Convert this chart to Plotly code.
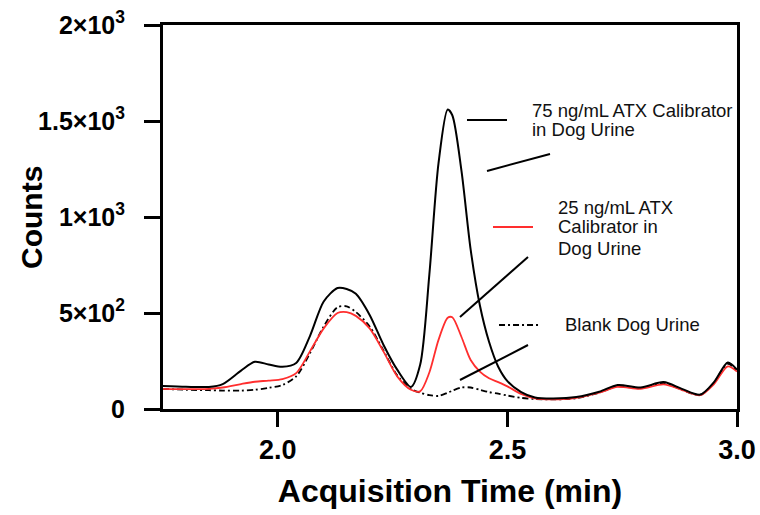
import plotly.graph_objects as go

# Acquisition time (min)
time_min = [1.75, 1.80, 1.85, 1.88, 1.92, 1.95, 1.98, 2.01, 2.04, 2.07, 2.10, 2.13,
            2.15, 2.17, 2.20, 2.23, 2.26, 2.29, 2.31, 2.33, 2.35, 2.37, 2.38, 2.40,
            2.42, 2.44, 2.46, 2.48, 2.50, 2.53, 2.56, 2.60, 2.65, 2.70, 2.74, 2.79,
            2.84, 2.88, 2.92, 2.95, 2.98, 3.00]

# 75 ng/mL ATX Calibrator in Dog Urine
counts_75 = [120, 116, 115, 130, 200, 246, 232, 220, 240, 380, 560, 630,
             625, 600, 490, 335, 205, 115, 230, 700, 1280, 1560, 1530, 1240,
             830, 540, 350, 220, 145, 88, 60, 55, 62, 90, 125, 112,
             140, 105, 75, 140, 242, 205]

# 25 ng/mL ATX Calibrator in Dog Urine
counts_25 = [105, 103, 105, 112, 130, 142, 148, 156, 187, 300, 420, 500,
             505, 485, 420, 300, 170, 100, 92, 190, 360, 475, 478, 375,
             255, 195, 160, 140, 118, 78, 55, 50, 58, 85, 115, 105,
             128, 100, 72, 130, 222, 195]

# Blank Dog Urine
counts_blank = [105, 100, 98, 96, 96, 100, 110, 125, 170, 290, 430, 530,
                535, 505, 430, 305, 175, 105, 85, 72, 68, 85, 95, 112,
                112, 100, 88, 80, 70, 58, 52, 50, 56, 85, 118, 108,
                135, 100, 73, 138, 235, 200]

y_tickvals = [0, 500, 1000, 1500, 2000]
y_ticktext = ["0", "5×10<sup>2</sup>", "1×10<sup>3</sup>", "1.5×10<sup>3</sup>", "2×10<sup>3</sup>"]
x_tickvals = [2.0, 2.5, 3.0]
x_ticktext = ["2.0", "2.5", "3.0"]

FONT = "Liberation Sans, Arial, Helvetica, sans-serif"
RED = "#ff2e2e"

fig = go.Figure()
fig.add_trace(go.Scatter(x=time_min, y=counts_blank, mode="lines",
                         line=dict(color="black", width=1.8, dash="6px,3px,2px,3px", shape="spline", smoothing=0.8),
                         name="Blank Dog Urine", showlegend=False))
fig.add_trace(go.Scatter(x=time_min, y=counts_25, mode="lines",
                         line=dict(color=RED, width=1.8, shape="spline", smoothing=0.8),
                         name="25 ng/mL ATX Calibrator in Dog Urine", showlegend=False))
fig.add_trace(go.Scatter(x=time_min, y=counts_75, mode="lines",
                         line=dict(color="black", width=2, shape="spline", smoothing=0.8),
                         name="75 ng/mL ATX Calibrator in Dog Urine", showlegend=False))

# legend-like annotations: (sample line, text lines, leader line) in paper coords
shapes = []
def seg(x0, y0, x1, y1, color="black", width=2, dash=None):
    shapes.append(dict(type="line", xref="paper", yref="paper", x0=x0, y0=y0, x1=x1, y1=y1,
                       line=dict(color=color, width=width, dash=dash)))

seg(0.5296, 0.7526, 0.5993, 0.7526)
seg(0.5645, 0.6198, 0.6742, 0.6641)
seg(0.5749, 0.4740, 0.6446, 0.4740, color=RED)
seg(0.5174, 0.2396, 0.6359, 0.3958)
seg(0.5854, 0.2188, 0.6568, 0.2188, width=1.8, dash="6px,3px,2px,3px")
seg(0.5174, 0.0755, 0.6359, 0.1667)

annotations = []
def txt(x, y, s):
    annotations.append(dict(x=x, y=y, xref="paper", yref="paper", text=s, showarrow=False,
                            xanchor="left", yanchor="middle",
                            font=dict(family=FONT, size=18.5, color="#111")))

txt(0.6394, 0.7786, "75 ng/mL ATX Calibrator")
txt(0.6394, 0.7266, "in Dog Urine")
txt(0.6847, 0.5260, "25 ng/mL ATX")
txt(0.6847, 0.4740, "Calibrator in")
txt(0.6847, 0.4167, "Dog Urine")
txt(0.6969, 0.2188, "Blank Dog Urine")

# y-axis title
annotations.append(dict(x=-0.230, y=0.5, xref="paper", yref="paper", text="<b>Counts</b>",
                        showarrow=False, textangle=-90, xanchor="center", yanchor="middle",
                        font=dict(family=FONT, size=30, color="black")))

fig.update_layout(
    width=760, height=515,
    margin=dict(l=163, r=23, t=25, b=106, autoexpand=False),
    plot_bgcolor="white", paper_bgcolor="white",
    shapes=shapes, annotations=annotations,
    font=dict(family=FONT, color="black"),
)
fig.update_xaxes(range=[1.75, 3.0], tickvals=x_tickvals, ticktext=x_ticktext,
                 automargin=False,
                 showline=True, linecolor="black", linewidth=3, mirror=True,
                 ticks="outside", ticklen=15, tickwidth=3, tickcolor="black",
                 ticklabelstandoff=0,
                 showgrid=False, zeroline=False,
                 tickfont=dict(family=FONT, size=27, color="black", weight="bold"),
                 title=dict(text="<b>Acquisition Time (min)</b>", standoff=16,
                            font=dict(family=FONT, size=32, color="black")))
fig.update_yaxes(range=[0, 2000], tickvals=y_tickvals, ticktext=y_ticktext,
                 automargin=False,
                 showline=True, linecolor="black", linewidth=3, mirror=True,
                 ticks="outside", ticklen=16, tickwidth=3, tickcolor="black",
                 ticklabelstandoff=14,
                 showgrid=False, zeroline=False,
                 tickfont=dict(family=FONT, size=25, color="black", weight="bold"))

fig.write_html("out.html")
